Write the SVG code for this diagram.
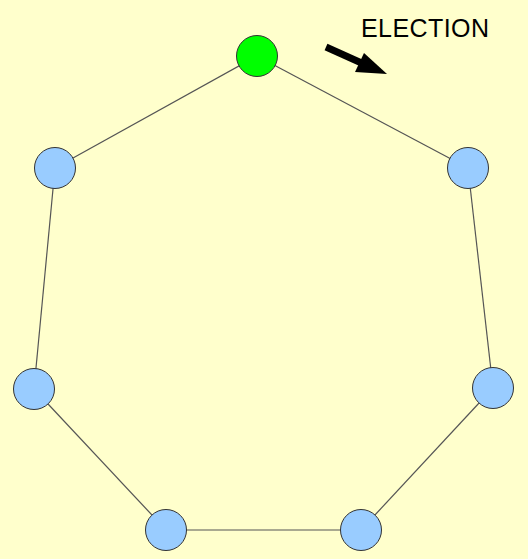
<svg xmlns="http://www.w3.org/2000/svg" width="528" height="559" viewBox="0 0 528 559">
  <style>
    .edge { stroke: #555; stroke-width: 1.2; fill: none; }
    .node { stroke: #333; stroke-width: 1; }
    .idle { fill: #99ccff; }
    .leader { fill: #00ff00; }
    .label { font-family: "Liberation Sans", Arial, sans-serif; font-size: 25px; fill: #000; }
  </style>
  <rect width="528" height="559" fill="#ffffcc"/>

  <!-- ring connections -->
  <g id="connectors">
    <line class="edge" x1="257" y1="56" x2="468" y2="168"/>
    <line class="edge" x1="468" y1="168" x2="493" y2="388"/>
    <line class="edge" x1="493" y1="388" x2="361" y2="530"/>
    <line class="edge" x1="361" y1="530" x2="166" y2="530"/>
    <line class="edge" x1="166" y1="530" x2="34" y2="389"/>
    <line class="edge" x1="34" y1="389" x2="55" y2="168"/>
    <line class="edge" x1="55" y1="168" x2="257" y2="56"/>
  </g>

  <g id="n0"><circle class="node leader" cx="257" cy="56" r="20.5"/></g>
  <g id="n1"><circle class="node idle" cx="468" cy="168" r="20.5"/></g>
  <g id="n2"><circle class="node idle" cx="493" cy="388" r="20.5"/></g>
  <g id="n3"><circle class="node idle" cx="361" cy="530" r="20.5"/></g>
  <g id="n4"><circle class="node idle" cx="166" cy="530" r="20.5"/></g>
  <g id="n5"><circle class="node idle" cx="34" cy="389" r="20.5"/></g>
  <g id="n6"><circle class="node idle" cx="55" cy="168" r="20.5"/></g>

  <!-- election direction marker -->
  <g id="election">
    <line x1="326" y1="47" x2="366" y2="65" stroke="#000" stroke-width="7"/>
    <polygon points="387,74 355,72 364,53" fill="#000"/>
    <text class="label" x="361" y="37" textLength="128" lengthAdjust="spacing">ELECTION</text>
  </g>
</svg>
